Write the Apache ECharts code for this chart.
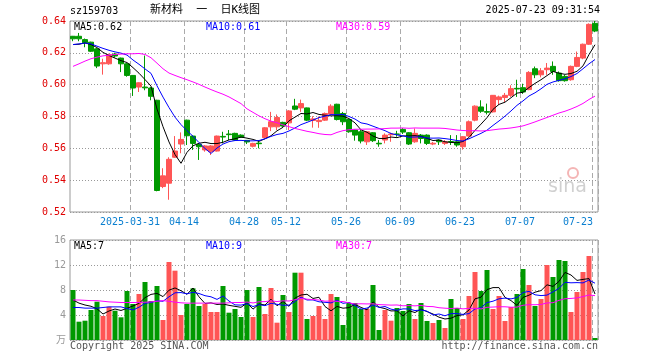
<!DOCTYPE html>
<html><head><meta charset="utf-8">
<style>html,body{margin:0;padding:0;background:#fff}#c{width:660px;height:360px}</style>
<script src="https://cdn.jsdelivr.net/npm/echarts@6/dist/echarts.min.js"></script>
</head><body><div id="c"></div>
<script>
const dates = ['2025-03-17','2025-03-18','2025-03-19','2025-03-20','2025-03-21','2025-03-24','2025-03-25','2025-03-26','2025-03-27','2025-03-28','2025-03-31','2025-04-01','2025-04-02','2025-04-03','2025-04-07','2025-04-08','2025-04-09','2025-04-10','2025-04-11','2025-04-14','2025-04-15','2025-04-16','2025-04-17','2025-04-18','2025-04-21','2025-04-22','2025-04-23','2025-04-24','2025-04-25','2025-04-28','2025-04-29','2025-04-30','2025-05-06','2025-05-07','2025-05-08','2025-05-09','2025-05-12','2025-05-13','2025-05-14','2025-05-15','2025-05-16','2025-05-19','2025-05-20','2025-05-21','2025-05-22','2025-05-23','2025-05-26','2025-05-27','2025-05-28','2025-05-29','2025-05-30','2025-06-03','2025-06-04','2025-06-05','2025-06-06','2025-06-09','2025-06-10','2025-06-11','2025-06-12','2025-06-13','2025-06-16','2025-06-17','2025-06-18','2025-06-19','2025-06-20','2025-06-23','2025-06-24','2025-06-25','2025-06-26','2025-06-27','2025-06-30','2025-07-01','2025-07-02','2025-07-03','2025-07-04','2025-07-07','2025-07-08','2025-07-09','2025-07-10','2025-07-11','2025-07-14','2025-07-15','2025-07-16','2025-07-17','2025-07-18','2025-07-21','2025-07-22','2025-07-23'];

const opens = [0.6304,0.6304,0.6283,0.6267,0.6225,0.6131,0.6131,0.6192,0.6167,0.6131,
0.6058,0.5985,0.5985,0.5979,0.5902,0.5360,0.5381,0.5544,0.5627,0.5777,
0.5677,0.5625,0.5590,0.5579,0.5583,0.5675,0.5690,0.5694,0.5683,0.5650,
0.5613,0.5633,0.5667,0.5735,0.5735,0.5763,0.5760,0.5866,0.5854,0.5854,
0.5775,0.5768,0.5777,0.5815,0.5877,0.5819,0.5781,0.5715,0.5704,0.5641,
0.5698,0.5632,0.5652,0.5685,0.5690,0.5719,0.5698,0.5641,0.5683,0.5683,
0.5627,0.5652,0.5631,0.5643,0.5641,0.5610,0.5677,0.5777,0.5860,0.5831,
0.5829,0.5906,0.5919,0.5933,0.5977,0.5981,0.5969,0.6100,0.6062,0.6094,
0.6115,0.6073,0.6052,0.6031,0.6115,0.6167,0.6254,0.6385];
const closes = [0.6288,0.6288,0.6263,0.6210,0.6117,0.6138,0.6188,0.6180,0.6131,0.6058,
0.5979,0.6012,0.5980,0.5927,0.5335,0.5427,0.5531,0.5583,0.5656,0.5679,
0.5631,0.5610,0.5615,0.5615,0.5677,0.5671,0.5686,0.5652,0.5669,0.5640,
0.5631,0.5629,0.5729,0.5767,0.5794,0.5740,0.5835,0.5846,0.5881,0.5777,
0.5785,0.5776,0.5819,0.5865,0.5781,0.5767,0.5704,0.5683,0.5646,0.5704,
0.5648,0.5628,0.5683,0.5690,0.5688,0.5702,0.5627,0.5694,0.5662,0.5631,
0.5632,0.5641,0.5641,0.5640,0.5621,0.5673,0.5767,0.5865,0.5833,0.5827,
0.5933,0.5923,0.5933,0.5975,0.5973,0.5954,0.6077,0.6062,0.6087,0.6104,
0.6083,0.6025,0.6025,0.6115,0.6171,0.6254,0.6379,0.6337];
const lows = [0.6273,0.6273,0.6235,0.6205,0.6104,0.6063,0.6125,0.6170,0.6079,0.6050,
0.5929,0.5954,0.5965,0.5902,0.5330,0.5350,0.5277,0.5540,0.5569,0.5621,
0.5590,0.5527,0.5579,0.5558,0.5580,0.5631,0.5652,0.5648,0.5665,0.5627,
0.5606,0.5600,0.5663,0.5708,0.5715,0.5735,0.5715,0.5840,0.5829,0.5771,
0.5730,0.5729,0.5772,0.5808,0.5775,0.5746,0.5698,0.5648,0.5631,0.5621,
0.5640,0.5610,0.5631,0.5641,0.5673,0.5690,0.5621,0.5635,0.5631,0.5621,
0.5620,0.5621,0.5621,0.5621,0.5610,0.5592,0.5673,0.5770,0.5823,0.5813,
0.5825,0.5873,0.5890,0.5923,0.5923,0.5942,0.5965,0.6041,0.6046,0.6062,
0.6062,0.6019,0.6019,0.6025,0.6110,0.6160,0.6250,0.6330];
const highs = [0.6306,0.6325,0.6290,0.6270,0.6230,0.6163,0.6195,0.6200,0.6170,0.6135,
0.6060,0.6015,0.6183,0.5985,0.5905,0.5475,0.5544,0.5677,0.5700,0.5780,
0.5680,0.5630,0.5620,0.5620,0.5680,0.5704,0.5715,0.5698,0.5688,0.5652,
0.5635,0.5648,0.5733,0.5829,0.5813,0.5767,0.5840,0.5911,0.5906,0.5856,
0.5802,0.5800,0.5825,0.5877,0.5880,0.5829,0.5785,0.5718,0.5719,0.5708,
0.5702,0.5652,0.5694,0.5698,0.5710,0.5727,0.5702,0.5725,0.5690,0.5688,
0.5640,0.5656,0.5652,0.5683,0.5683,0.5677,0.5775,0.5870,0.5902,0.5881,
0.5935,0.5931,0.5948,0.5996,0.6031,0.6006,0.6085,0.6114,0.6104,0.6136,
0.6146,0.6083,0.6062,0.6120,0.6208,0.6258,0.6385,0.6400];
const volumes = [8.0,2.93,3.09,4.8,6.13,3.84,5.33,4.69,3.63,7.84,
5.76,7.36,9.28,6.24,8.64,3.2,12.48,11.09,4.0,5.76,
8.27,5.44,5.76,4.48,4.48,8.64,4.37,4.96,3.68,8.0,
3.68,8.48,4.16,8.32,2.77,7.2,4.48,10.77,10.77,3.36,
3.84,5.44,3.36,7.36,6.88,2.4,5.92,5.92,4.96,4.96,
8.8,1.6,4.8,3.09,5.12,4.64,5.76,3.36,5.92,3.04,
2.72,3.2,1.92,6.56,5.12,3.36,7.04,10.88,7.84,11.2,
4.96,7.04,3.04,5.28,7.36,11.36,8.8,5.44,6.56,12.0,
10.08,12.8,12.64,4.48,7.68,10.88,13.44,0.32];

// moving-average values before enough history is visible
const ma5Head = [0.6252,0.6254,0.6262,0.6252];
const ma10Head = [0.6252,0.6256,0.6262,0.6256,0.6242,0.6228,0.6216,0.6206,0.6198];
const ma30Head = [0.6115,0.6131,0.6148,0.6163,0.6173,0.6181,0.6185,0.6190,0.6192,0.6194,0.6194,0.6196,0.6190,0.6169,0.6135,0.6100,0.6073,0.6058,0.6044,0.6031,0.6017,0.6002,0.5985,0.5969,0.5954,0.5940,0.5923,0.5902,0.5881];
const vma5Head = [6.4,5.9,5.6,5.4];
const vma10Head = [5.2,5.2,5.1,5.1,5.1,5.2,5.3,5.3,5.3];
const vma30Head = [6.4,6.4,6.35,6.3,6.3,6.2,6.1,6.05,6.0,6.0,6.0,6.0,6.05,6.1,6.2,6.3,6.2,6.05,5.95,5.9,5.9,5.9,5.9,5.9,5.9,5.9,5.95,6.0,6.0];

const tickDates = ['2025-03-31','2025-04-14','2025-04-28','2025-05-12','2025-05-26','2025-06-09','2025-06-23','2025-07-07','2025-07-23'];
const tickLabels = ['2025-03-31','04-14','04-28','05-12','05-26','06-09','06-23','07-07','07-23'];

function movingAvg(vals, n, head) {
  return vals.map((v, i) => {
    if (i < n - 1) return head[i];
    let s = 0; for (let k = i - n + 1; k <= i; k++) s += vals[k];
    return +(s / n).toFixed(4);
  });
}
const ma5 = movingAvg(closes, 5, ma5Head), ma10 = movingAvg(closes, 10, ma10Head), ma30 = movingAvg(closes, 30, ma30Head);
const vma5 = movingAvg(volumes, 5, vma5Head), vma10 = movingAvg(volumes, 10, vma10Head), vma30 = movingAvg(volumes, 30, vma30Head);
const last = dates.length - 1;
const f2 = v => (Math.floor(v * 100 + 1e-9) / 100).toFixed(2);
const f0 = v => String(Math.floor(v));

const UP = '#ff5555', DOWN = '#009900';
const MONO = '"DejaVu Sans Mono","Liberation Mono","Noto Sans CJK SC",monospace';
const tickIdx = new Set(tickDates.map(d => dates.indexOf(d)));
const candleData = dates.map((d, i) => [opens[i], closes[i], lows[i], highs[i]]);
const volData = volumes.map((v, i) => ({ value: v, itemStyle: { color: closes[i] >= opens[i] ? UP : DOWN } }));

const vSplit = { show: true, interval: (i) => tickIdx.has(i), lineStyle: { color: '#aaa', type: [5, 3], width: 1 } };

function txt(opts, text, color, size, fam) {
  return Object.assign({ type: 'text', z: 100, style: { text: text, fill: color, font: (size || 10) + 'px ' + (fam || MONO) } }, opts);
}

const chart = echarts.init(document.getElementById('c'), null, { renderer: 'canvas' });
chart.setOption({
  animation: false,
  backgroundColor: '#fff',
  grid: [
    { left: 70, top: 21, width: 528, height: 191, show: true, borderColor: '#999', borderWidth: 1 },
    { left: 70, top: 240, width: 528, height: 100, show: true, borderColor: '#999', borderWidth: 1 }
  ],
  xAxis: [
    { type: 'category', gridIndex: 0, data: dates, boundaryGap: true,
      axisLine: { show: false }, axisTick: { show: false },
      axisLabel: { interval: (i) => tickIdx.has(i), margin: 5,
        formatter: (v) => { const k = tickDates.indexOf(v); if (k < 0) return ''; return (v === dates[last] ? '{e|' : '{n|') + tickLabels[k] + '}'; },
        rich: { n: { fontFamily: MONO, fontSize: 10, color: '#0a7fd0', padding: [0, 6, 0, 0] },
                e: { fontFamily: MONO, fontSize: 10, color: '#0a7fd0', padding: [0, 34, 0, 0] } } },
      splitLine: vSplit },
    { type: 'category', gridIndex: 1, data: dates, boundaryGap: true,
      axisLine: { show: false }, axisTick: { show: false }, axisLabel: { show: false },
      splitLine: vSplit }
  ],
  yAxis: [
    { type: 'value', gridIndex: 0, min: 0.52, max: 0.64, interval: 0.02, scale: true,
      axisLine: { show: false }, axisTick: { show: false },
      axisLabel: { color: '#e00000', fontFamily: MONO, fontSize: 10, margin: 4, formatter: v => v.toFixed(2) },
      splitLine: { show: true, lineStyle: { color: '#999', type: [1, 2] } } },
    { type: 'value', gridIndex: 1, min: 0, max: 16, interval: 4,
      axisLine: { show: false }, axisTick: { show: false },
      axisLabel: { color: '#999', fontFamily: MONO, fontSize: 10, margin: 4, formatter: v => v === 0 ? '万' : String(v) },
      splitLine: { show: true, lineStyle: { color: '#999', type: [1, 2] } } }
  ],
  series: [
    { type: 'candlestick', xAxisIndex: 0, yAxisIndex: 0, data: candleData, barWidth: 5,
      itemStyle: { color: UP, color0: DOWN, borderColor: UP, borderColor0: DOWN, borderWidth: 1 } },
    { type: 'line', xAxisIndex: 0, yAxisIndex: 0, data: ma5, symbol: 'none', lineStyle: { color: '#000', width: 1 }, z: 5 },
    { type: 'line', xAxisIndex: 0, yAxisIndex: 0, data: ma10, symbol: 'none', lineStyle: { color: '#0000ff', width: 1 }, z: 5 },
    { type: 'line', xAxisIndex: 0, yAxisIndex: 0, data: ma30, symbol: 'none', lineStyle: { color: '#ff00ff', width: 1 }, z: 5 },
    { type: 'bar', xAxisIndex: 1, yAxisIndex: 1, data: volData, barWidth: 5 },
    { type: 'line', xAxisIndex: 1, yAxisIndex: 1, data: vma5, symbol: 'none', lineStyle: { color: '#000', width: 1 }, z: 5 },
    { type: 'line', xAxisIndex: 1, yAxisIndex: 1, data: vma10, symbol: 'none', lineStyle: { color: '#0000ff', width: 1 }, z: 5 },
    { type: 'line', xAxisIndex: 1, yAxisIndex: 1, data: vma30, symbol: 'none', lineStyle: { color: '#ff00ff', width: 1 }, z: 5 }
  ],
  graphic: [
    txt({ left: 70, top: 6 }, 'sz159703', '#000', 10),
    txt({ left: 150, top: 5 }, '新材料  一  日K线图', '#000', 11),
    txt({ right: 60, top: 5 }, '2025-07-23 09:31:54', '#000', 10),
    txt({ left: 74, top: 22 }, 'MA5:' + f2(ma5[last]), '#000', 10),
    txt({ left: 206, top: 22 }, 'MA10:' + f2(ma10[last]), '#0000ff', 10),
    txt({ left: 336, top: 22 }, 'MA30:' + f2(ma30[last]), '#ff00ff', 10),
    txt({ left: 74, top: 241 }, 'MA5:' + f0(vma5[last]), '#000', 10),
    txt({ left: 206, top: 241 }, 'MA10:' + f0(vma10[last]), '#0000ff', 10),
    txt({ left: 336, top: 241 }, 'MA30:' + f0(vma30[last]), '#ff00ff', 10),
    txt({ left: 70, top: 341 }, 'Copyright 2025 SINA.COM', '#555', 10),
    txt({ right: 62, top: 341 }, 'http://finance.sina.com.cn', '#555', 10),
    { type: 'circle', z: 1, shape: { cx: 573, cy: 173, r: 5 }, style: { fill: 'none', stroke: 'rgba(235,120,120,0.55)', lineWidth: 2 } },
    txt({ left: 548, top: 178, z: 1 }, 'sina', 'rgba(170,170,170,0.55)', 19, 'DejaVu Sans')
  ]
});
</script></body></html>
